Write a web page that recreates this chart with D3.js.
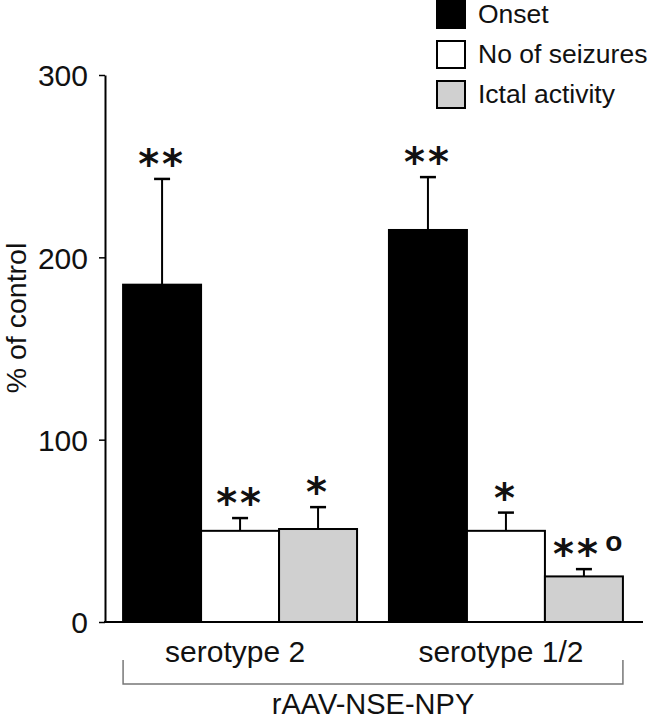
<!DOCTYPE html>
<html>
<head>
<meta charset="utf-8" />
<title>rAAV-NSE-NPY</title>
<script src="https://cdn.jsdelivr.net/npm/d3@7"></script>
<style>
  body { margin: 0; background: #fff; }
  text { font-family: "Liberation Sans", Arial, sans-serif; fill: #111; }
</style>
</head>
<body>
<div id="chart"></div>
<script>
// data
var groups = ["serotype 2", "serotype 1/2"];
var series = ["Onset", "No of seizures", "Ictal activity"];
var colors = ["#000000", "#ffffff", "#d0d0d0"];
var onset = [185, 215];
var onsetErr = [243, 244];
var seizures = [50, 50];
var seizuresErr = [57, 60];
var ictal = [51, 25];
var ictalErr = [63, 29];
var stars = [["**", "**", "*"], ["**", "*", "**"]];
var extraMark = [["", "", ""], ["", "", "o"]];
var yTicks = [0, 100, 200, 300];

var width = 648, height = 720;
var svg = d3.select("#chart").append("svg")
    .attr("width", width)
    .attr("height", height);

var x0 = d3.scaleBand().domain(groups).range([105, 641])
    .paddingInner(0.12).paddingOuter(0.068);
var x1 = d3.scaleBand().domain(series).range([0, x0.bandwidth()]);
var y = d3.scaleLinear().domain([0, 300]).range([622, 75]);

var rows = [];
groups.forEach(function(g, i) {
    var vals = [onset[i], seizures[i], ictal[i]];
    var errs = [onsetErr[i], seizuresErr[i], ictalErr[i]];
    series.forEach(function(s, j) {
        rows.push({ g: g, s: s, j: j, v: vals[j], e: errs[j],
                    star: stars[i][j], extra: extraMark[i][j] });
    });
});

// bars
var bar = svg.append("g").selectAll("g")
    .data(rows).enter().append("g")
    .attr("transform", function(d) { return "translate(" + (x0(d.g) + x1(d.s)) + ",0)"; });

bar.append("rect")
    .attr("x", 0)
    .attr("y", function(d) { return y(d.v); })
    .attr("width", x1.bandwidth())
    .attr("height", function(d) { return y(0) - y(d.v); })
    .attr("fill", function(d) { return colors[d.j]; })
    .attr("stroke", "#000")
    .attr("stroke-width", 2);

// error bars (upper only)
var cx = x1.bandwidth() / 2;
bar.append("line")
    .attr("x1", cx).attr("x2", cx)
    .attr("y1", function(d) { return y(d.v); })
    .attr("y2", function(d) { return y(d.e); })
    .attr("stroke", "#000").attr("stroke-width", 2);
bar.append("line")
    .attr("x1", cx - 8).attr("x2", cx + 8)
    .attr("y1", function(d) { return y(d.e); })
    .attr("y2", function(d) { return y(d.e); })
    .attr("stroke", "#000").attr("stroke-width", 2.5);

// significance marks
bar.append("text")
    .attr("x", function(d) { return d.extra ? cx - 7 : cx; })
    .attr("y", function(d) { return y(d.e) - 1; })
    .attr("text-anchor", "middle")
    .style("font-family", "'DejaVu Sans', sans-serif")
    .style("font-weight", "bold")
    .style("font-size", "40px")
    .style("letter-spacing", "3px")
    .text(function(d) { return d.star; });
bar.filter(function(d) { return d.extra; }).append("text")
    .attr("x", cx + 30)
    .attr("y", function(d) { return y(d.e) - 18; })
    .attr("text-anchor", "middle")
    .style("font-size", "28px")
    .style("font-weight", "bold")
    .text(function(d) { return d.extra; });

// axes
var yAxis = d3.axisLeft(y).tickValues(yTicks).tickSize(6).tickSizeOuter(0).tickPadding(11);
var ga = svg.append("g").attr("transform", "translate(105,0)").call(yAxis);
ga.select(".domain").attr("stroke", "#000").attr("stroke-width", 2);
ga.selectAll(".tick line").attr("stroke", "#000").attr("stroke-width", 1.5);
ga.selectAll(".tick text")
    .attr("dy", "0.36em")
    .style("font-family", "'Liberation Sans', Arial, sans-serif")
    .style("font-size", "30px")
    .attr("fill", "#111");

svg.append("line")
    .attr("x1", 104).attr("x2", 643)
    .attr("y1", y(0)).attr("y2", y(0))
    .attr("stroke", "#000").attr("stroke-width", 2);

svg.append("text")
    .attr("transform", "translate(26," + 318 + ") rotate(-90)")
    .attr("text-anchor", "middle")
    .style("font-size", "28.5px")
    .text("% of control");

// group labels
svg.append("g").selectAll("text")
    .data(groups).enter().append("text")
    .attr("x", function(d) { return x0(d) + x0.bandwidth() / 2 - 5; })
    .attr("y", 662)
    .attr("text-anchor", "middle")
    .style("font-size", "30px")
    .text(function(d) { return d; });

// bracket
var bx0 = x0(groups[0]), bx1 = x0(groups[1]) + x0.bandwidth();
svg.append("path")
    .attr("d", "M" + bx0 + ",660V684H" + bx1 + "V660")
    .attr("fill", "none")
    .attr("stroke", "#777")
    .attr("stroke-width", 1.5);
svg.append("text")
    .attr("x", (bx0 + bx1) / 2)
    .attr("y", 714)
    .attr("text-anchor", "middle")
    .style("font-size", "29px")
    .text("rAAV-NSE-NPY");

// legend
var leg = svg.append("g").selectAll("g")
    .data(series).enter().append("g")
    .attr("transform", function(d, i) { return "translate(437," + (1 + i * 40) + ")"; });
leg.append("rect")
    .attr("width", 28).attr("height", 27)
    .attr("fill", function(d, i) { return colors[i]; })
    .attr("stroke", "#000").attr("stroke-width", 2);
leg.append("text")
    .attr("x", 41).attr("y", 22)
    .style("font-size", "26.5px")
    .text(function(d) { return d; });
</script>
</body>
</html>
